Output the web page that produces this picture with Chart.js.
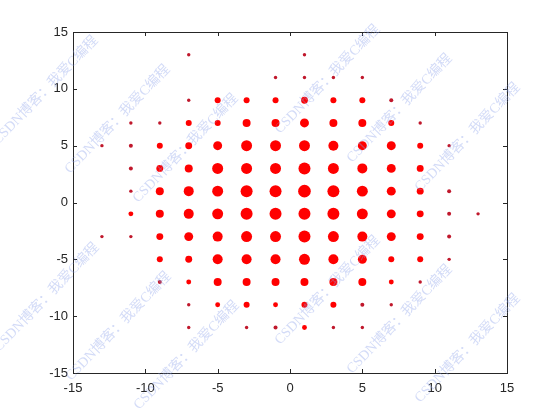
<!DOCTYPE html>
<html>
<head>
<meta charset="utf-8">
<script src="https://cdn.jsdelivr.net/npm/chart.js@4"></script>
<style>
  body { margin: 0; background: #fff; }
</style>
</head>
<body>
<canvas id="c" width="560" height="420"></canvas>
<script>
// constellation levels (I and Q)
const iLevels = [-13, -11, -9, -7, -5, -3, -1, 1, 3, 5, 7, 9, 11, 13];
const qLevels = [13, 11, 9, 7, 5, 3, 1, -1, -3, -5, -7, -9, -11];
// relative number of received symbols in each cluster (rows = qLevels, cols = iLevels)
const hits = [
  [0, 0, 0, 2, 0, 0, 0, 2, 0, 0, 0, 0, 0, 0],
  [0, 0, 0, 0, 0, 0, 2, 2, 2, 2, 0, 0, 0, 0],
  [0, 0, 0, 2, 9, 9, 9, 12, 9, 9, 4, 0, 0, 0],
  [0, 2, 2, 9, 9, 16, 16, 20, 16, 16, 9, 2, 0, 0],
  [2, 4, 9, 12, 20, 30, 30, 30, 25, 20, 20, 9, 2, 0],
  [0, 4, 12, 16, 30, 30, 30, 36, 30, 25, 20, 12, 0, 0],
  [0, 2, 16, 25, 30, 36, 36, 40, 36, 30, 20, 12, 4, 0],
  [0, 6, 16, 25, 30, 36, 36, 36, 36, 30, 20, 12, 4, 2],
  [2, 2, 12, 20, 25, 30, 30, 36, 30, 25, 20, 12, 4, 0],
  [0, 0, 9, 12, 25, 25, 25, 30, 25, 20, 9, 9, 2, 0],
  [0, 0, 4, 6, 16, 16, 16, 16, 16, 16, 6, 2, 0, 0],
  [0, 0, 0, 2, 6, 9, 6, 9, 9, 4, 2, 0, 0, 0],
  [0, 0, 0, 2, 0, 2, 4, 6, 2, 2, 0, 0, 0, 0]
];
const axisTicks = [-15, -10, -5, 0, 5, 10, 15];
const watermark = 'CSDN博客：我爱C编程';

const points = [];
qLevels.forEach((q, r) => {
  iLevels.forEach((i, c) => {
    const n = hits[r][c];
    if (n > 0) points.push({ x: i, y: q, r: Math.max(1.7, Math.sqrt(n)) });
  });
});

// MATLAB-style box with ticks pointing inwards
const boxPlugin = {
  id: 'box',
  afterDatasetsDraw(chart) {
    const { ctx, chartArea: a, scales } = chart;
    ctx.save();
    ctx.strokeStyle = '#262626';
    ctx.lineWidth = 1;
    ctx.strokeRect(a.left + 0.5, a.top + 0.5, a.right - a.left, a.bottom - a.top);
    ctx.beginPath();
    axisTicks.forEach(v => {
      const x = Math.round(scales.x.getPixelForValue(v)) + 0.5;
      ctx.moveTo(x, a.bottom); ctx.lineTo(x, a.bottom - 4);
      ctx.moveTo(x, a.top); ctx.lineTo(x, a.top + 4);
      const y = Math.round(scales.y.getPixelForValue(v)) + 0.5;
      ctx.moveTo(a.left, y); ctx.lineTo(a.left + 4, y);
      ctx.moveTo(a.right, y); ctx.lineTo(a.right - 4, y);
    });
    ctx.stroke();
    ctx.restore();
  }
};

const watermarkPlugin = {
  id: 'watermark',
  afterDraw(chart) {
    const { ctx } = chart;
    ctx.save();
    ctx.fillStyle = 'rgba(140, 160, 235, 0.38)';
    ctx.font = '14px "Liberation Serif", "Noto Sans CJK SC", serif';
    ctx.textBaseline = 'alphabetic';
    const groups = [[-2, 145], [280, 134], [-1, 352], [280, 345]];
    const offs = [[0, 0], [72, 29], [140, 58]];
    groups.forEach(g => offs.forEach(o => {
      ctx.save();
      ctx.translate(g[0] + o[0], g[1] + o[1]);
      ctx.rotate(-46 * Math.PI / 180);
      ctx.fillText(watermark, 0, 0);
      ctx.restore();
    }));
    ctx.restore();
  }
};

new Chart(document.getElementById('c'), {
  type: 'bubble',
  data: {
    datasets: [{
      data: points,
      backgroundColor: ctx => (ctx.raw && ctx.raw.r < 2.1 ? '#c0182c' : '#ff0000'),
      borderWidth: 0
    }]
  },
  options: {
    responsive: false,
    animation: false,
    events: [],
    layout: { padding: { top: 32, right: 53, left: 0, bottom: 0 } },
    plugins: { legend: { display: false }, tooltip: { enabled: false } },
    scales: {
      x: {
        type: 'linear', min: -15, max: 15,
        afterFit: s => { s.height = 47; },
        afterBuildTicks: s => { s.ticks = axisTicks.map(v => ({ value: v })); },
        grid: { display: false, drawTicks: false },
        border: { display: false },
        ticks: { padding: 8, color: '#262626', font: { family: '"Liberation Sans", Arial, sans-serif', size: 13 } }
      },
      y: {
        type: 'linear', min: -15, max: 15,
        afterFit: s => { s.width = 73; },
        afterBuildTicks: s => { s.ticks = axisTicks.map(v => ({ value: v })); },
        grid: { display: false, drawTicks: false },
        border: { display: false },
        ticks: { padding: 5, color: '#262626', font: { family: '"Liberation Sans", Arial, sans-serif', size: 13 } }
      }
    }
  },
  plugins: [boxPlugin, watermarkPlugin]
});
</script>
</body>
</html>
